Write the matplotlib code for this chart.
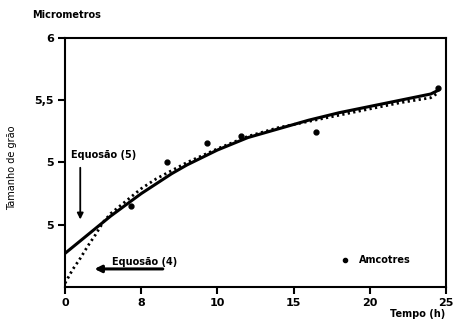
import matplotlib
matplotlib.use("Agg")
import matplotlib.pyplot as plt

# values
t_eq5 = [0, 1, 2, 3, 4, 5, 6, 7, 8, 10, 12, 14, 16, 18, 20, 22, 24, 24.5]
d_eq5 = [4.27, 4.37, 4.47, 4.57, 4.66, 4.75, 4.83, 4.91, 4.98, 5.10, 5.20,
         5.27, 5.34, 5.40, 5.45, 5.50, 5.55, 5.58]

t_eq4 = [0, 0.5, 1, 1.5, 2, 2.5, 3, 4, 5, 6, 8, 10, 12, 14, 16, 18,
         20, 22, 24, 24.5]
d_eq4 = [4.03, 4.14, 4.23, 4.33, 4.42, 4.52, 4.59, 4.69, 4.79, 4.87,
         5.00, 5.11, 5.21, 5.28, 5.33, 5.38, 5.43, 5.48, 5.52, 5.56]

t_samples = [4.3, 6.7, 9.3, 11.55, 16.5, 24.5]
d_samples = [4.65, 5.00, 5.16, 5.21, 5.245, 5.60]

x_ticks = [0, 5, 10, 15, 20, 25]
x_labels = ["0", "8", "10", "15", "20", "25"]
y_ticks = [4.5, 5.0, 5.5, 6.0]
y_labels = ["5", "5", "5,5", "6"]

plt.rcParams['font.family'] = ['DejaVu Sans']
plt.rcParams['font.weight'] = 'bold'

fig = plt.figure(figsize=(4.55, 3.23), dpi=100)
ax = fig.add_axes([0.1429, 0.1115, 0.8371, 0.7709])

ax.plot(t_eq5, d_eq5, color='black', lw=2.2, solid_capstyle='round')
ax.plot(t_eq4, d_eq4, color='black', lw=2.0, linestyle=(0, (0.8, 1.2)))
ax.plot(t_samples, d_samples, 'o', color='black', ms=3.5)

ax.set_xlim(0, 25)
ax.set_ylim(4, 6)
ax.set_xticks(x_ticks)
ax.set_xticklabels(x_labels)
ax.set_yticks(y_ticks)
ax.set_yticklabels(y_labels)
ax.tick_params(direction='out', length=5, width=1.5, labelsize=8, pad=3)
for s in ax.spines.values():
    s.set_linewidth(1.5)

# annotations
ax.text(0.4, 5.04, "Equosão (5)", fontsize=7, fontweight='bold')
ax.annotate("", xy=(1.0, 4.52), xytext=(1.0, 4.98),
            arrowprops=dict(arrowstyle='-|>', color='black', lw=1.3,
                            mutation_scale=9))
ax.text(3.1, 4.18, "Equosão (4)", fontsize=7, fontweight='bold')
ax.annotate("", xy=(1.75, 4.145), xytext=(6.6, 4.145),
            arrowprops=dict(arrowstyle='-|>', color='black', lw=2.2,
                            mutation_scale=10))
ax.plot([18.4], [4.215], 'o', color='black', ms=3)
ax.text(19.3, 4.215, "Amcotres", fontsize=7, fontweight='bold', va='center')

fig.text(0.07, 0.953, "Micrometros", fontsize=7, fontweight='bold', va='center')
fig.text(0.027, 0.48, "Tamanho de grão", fontsize=7, rotation=90,
         ha='center', va='center', fontweight='normal')
fig.text(0.978, 0.018, "Tempo (h)", fontsize=7, fontweight='bold', ha='right')

fig.savefig("out.png", dpi=100)
